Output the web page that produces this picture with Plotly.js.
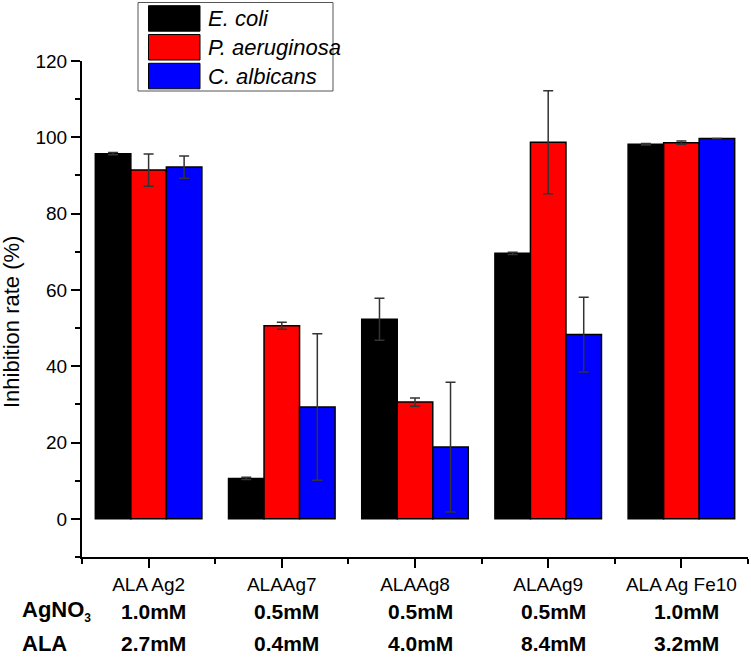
<!DOCTYPE html>
<html>
<head>
<meta charset="utf-8">
<script src="https://cdn.plot.ly/plotly-3.0.1.min.js"></script>
<style>html,body{margin:0;padding:0;background:#fff;}#chart{width:751px;height:657px;}</style>
</head>
<body>
<div id="chart"></div>
<script>
// ---- data ----
const categories = ['ALA Ag2', 'ALAAg7', 'ALAAg8', 'ALAAg9', 'ALA Ag Fe10'];
const seriesNames = ['E. coli', 'P. aeruginosa', 'C. albicans'];
const ecoli = [95.7, 10.6, 52.3, 69.6, 98.2];
const ecoliErr = [0.3, 0.3, 5.5, 0.3, 0.2];
const paer = [91.4, 50.6, 30.6, 98.7, 98.6];
const paerErr = [4.2, 0.9, 1.1, 13.5, 0.4];
const calb = [92.2, 29.3, 18.8, 48.3, 99.7];
const calbErr = [2.9, 19.2, 17.0, 9.8, null];
const agno3 = ['1.0mM', '0.5mM', '0.5mM', '0.5mM', '1.0mM'];
const ala = ['2.7mM', '0.4mM', '4.0mM', '8.4mM', '3.2mM'];
const rowLabels = ['AgNO<sub><span style="font-size:12px">3</span></sub>', 'ALA'];
const yTitle = 'Inhibition rate (%)';
const colors = ['#000000', '#ff0000', '#0000ff'];

// ---- layout geometry ----
const W = 751, H = 657;
const M = {l: 82, r: 3, t: 61, b: 100};
const pw = W - M.l - M.r, ph = H - M.t - M.b;
const px2x = p => (p - M.l) / pw;
const px2y = p => (H - M.b - p) / ph;
const FONT = '"Liberation Sans", Arial, sans-serif';

const xIdx = categories.map((c, i) => i);
const vals = [ecoli, paer, calb];
const errs = [ecoliErr, paerErr, calbErr];

const traces = vals.map((v, k) => ({
  type: 'bar',
  name: seriesNames[k],
  x: xIdx,
  y: v,
  marker: {color: colors[k], line: {color: '#000', width: 1.5}},
  error_y: {type: 'data', array: errs[k], visible: true, color: '#333', thickness: 1.5, width: 5},
  showlegend: false,
  hoverinfo: 'none'
}));

// custom legend
const shapes = [];
const annotations = [];
shapes.push({type: 'rect', xref: 'paper', yref: 'paper',
  x0: px2x(138), x1: px2x(333), y0: px2y(2.5), y1: px2y(91),
  line: {color: '#555', width: 1}, fillcolor: 'rgba(0,0,0,0)'});
seriesNames.forEach((n, k) => {
  const top = 5.7 + k * 28.8;
  shapes.push({type: 'rect', xref: 'paper', yref: 'paper',
    x0: px2x(148.5), x1: px2x(200), y0: px2y(top), y1: px2y(top + 25.5),
    line: {color: '#000', width: 1}, fillcolor: colors[k]});
  annotations.push({xref: 'paper', yref: 'paper', x: px2x(206), y: px2y(top + 13),
    text: '<i>' + n + '</i>', showarrow: false, xanchor: 'left', yanchor: 'middle',
    font: {family: FONT, size: 22, color: '#000'}});
});

// y-axis title
annotations.push({xref: 'paper', yref: 'paper', x: px2x(12), y: px2y(322),
  text: yTitle, textangle: -90, showarrow: false, xanchor: 'center', yanchor: 'middle',
  font: {family: FONT, size: 22, color: '#000'}});

// bottom table rows
rowLabels.forEach((t, r) => {
  annotations.push({xref: 'paper', yref: 'paper', x: px2x(20), y: px2y(r === 0 ? 611 : 643),
    text: '<b>' + t + '</b>', showarrow: false, xanchor: 'left', yanchor: 'middle',
    font: {family: FONT, size: 22, color: '#000'}});
});
[agno3, ala].forEach((row, r) => {
  row.forEach((t, i) => {
    annotations.push({xref: 'x', yref: 'paper', x: xIdx[i], xshift: 5, y: px2y(r === 0 ? 611 : 643),
      text: '<b>' + t + '</b>', showarrow: false, xanchor: 'center', yanchor: 'middle',
      font: {family: FONT, size: 21, color: '#000'}});
  });
});

const minorX = [];
for (let i = 0; i <= categories.length; i++) minorX.push(i - 0.5);

const layout = {
  width: W, height: H,
  margin: M,
  paper_bgcolor: '#fff', plot_bgcolor: '#fff',
  font: {family: FONT, color: '#000'},
  barmode: 'group', bargap: 0.2, bargroupgap: 0,
  showlegend: false,
  xaxis: {
    type: 'linear', range: [-0.5, categories.length - 0.5],
    tickvals: xIdx, ticktext: categories,
    ticks: 'outside', ticklen: 9, tickwidth: 2, tickcolor: '#000',
    minor: {tickvals: minorX, ticks: 'outside', ticklen: 5, tickwidth: 2, tickcolor: '#000'},
    showline: true, linecolor: '#000', linewidth: 2,
    showgrid: false, zeroline: false,
    tickfont: {family: FONT, size: 19, color: '#000'}
  },
  yaxis: {
    range: [-10, 120], tick0: 0, dtick: 20,
    ticks: 'outside', ticklen: 9, tickwidth: 2, tickcolor: '#000',
    minor: {dtick: 10, ticks: 'outside', ticklen: 5, tickwidth: 2, tickcolor: '#000'},
    showline: true, linecolor: '#000', linewidth: 2,
    showgrid: false, zeroline: false,
    tickfont: {family: FONT, size: 19, color: '#000'}
  },
  shapes: shapes,
  annotations: annotations
};

Plotly.newPlot('chart', traces, layout, {displayModeBar: false, staticPlot: true});
</script>
</body>
</html>
